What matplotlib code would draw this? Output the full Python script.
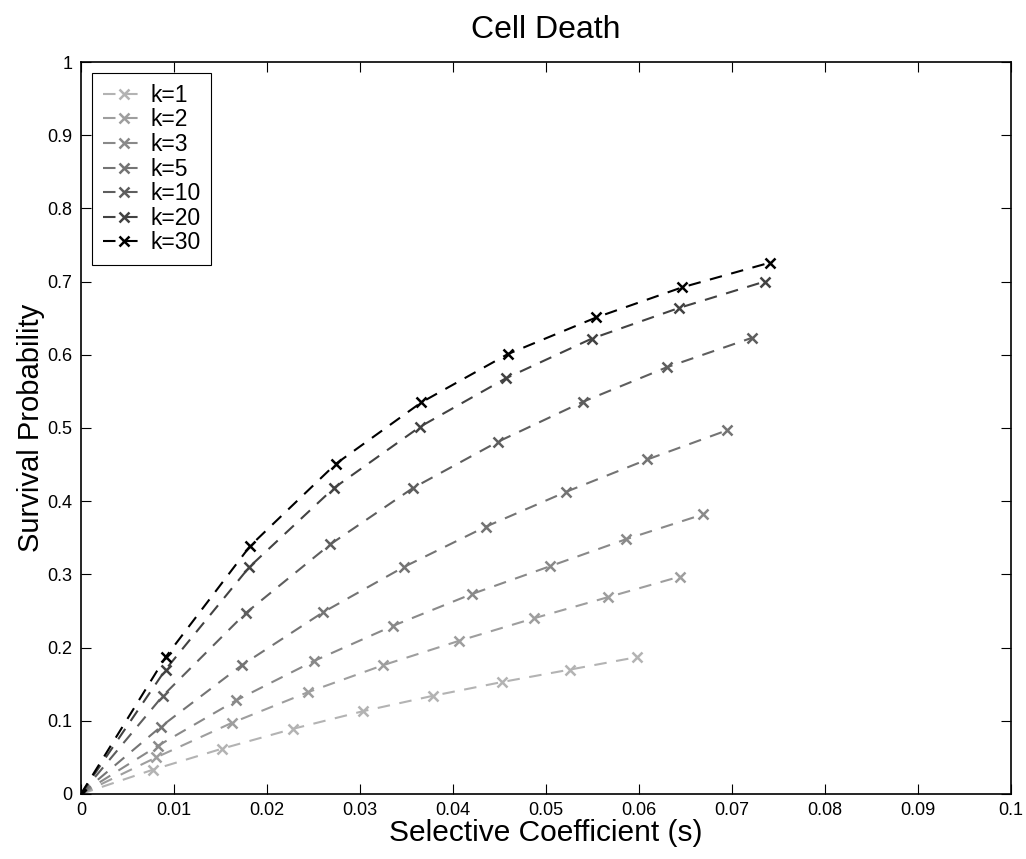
#!/usr/bin/env python3
# -*- coding: utf-8 -*-

"""
Cell Death: survival probability vs selective coefficient for several k.
"""

import matplotlib
matplotlib.use('Agg')
import matplotlib.pyplot as plt
from matplotlib.ticker import FuncFormatter

plt.rcParams['font.family'] = ['Liberation Sans', 'DejaVu Sans']

# Data
k_labels = ['k=1', 'k=2', 'k=3', 'k=5', 'k=10', 'k=20', 'k=30']

s_k1 = [0, 0.0077, 0.0152, 0.0228, 0.0303, 0.0378, 0.0453, 0.0526, 0.0598]
p_k1 = [0, 0.033, 0.062, 0.089, 0.113, 0.134, 0.153, 0.170, 0.187]

s_k2 = [0, 0.0081, 0.0162, 0.0244, 0.0325, 0.0406, 0.0487, 0.0567, 0.0644]
p_k2 = [0, 0.050, 0.097, 0.139, 0.176, 0.209, 0.240, 0.269, 0.297]

s_k3 = [0, 0.0083, 0.0167, 0.0251, 0.0336, 0.0420, 0.0504, 0.0586, 0.0669]
p_k3 = [0, 0.066, 0.128, 0.182, 0.230, 0.273, 0.311, 0.348, 0.382]

s_k5 = [0, 0.0086, 0.0173, 0.0260, 0.0347, 0.0435, 0.0522, 0.0609, 0.0695]
p_k5 = [0, 0.092, 0.176, 0.248, 0.310, 0.365, 0.413, 0.457, 0.497]

s_k10 = [0, 0.0088, 0.0177, 0.0268, 0.0357, 0.0448, 0.0540, 0.0630, 0.0721]
p_k10 = [0, 0.134, 0.247, 0.341, 0.418, 0.481, 0.536, 0.583, 0.623]

s_k20 = [0, 0.0091, 0.0181, 0.0272, 0.0365, 0.0457, 0.0549, 0.0643, 0.0735]
p_k20 = [0, 0.170, 0.310, 0.418, 0.502, 0.568, 0.622, 0.664, 0.700]

s_k30 = [0, 0.0091, 0.0182, 0.0274, 0.0366, 0.0459, 0.0554, 0.0646, 0.0741]
p_k30 = [0, 0.187, 0.339, 0.451, 0.535, 0.601, 0.651, 0.692, 0.726]

x_series = [s_k1, s_k2, s_k3, s_k5, s_k10, s_k20, s_k30]
y_series = [p_k1, p_k2, p_k3, p_k5, p_k10, p_k20, p_k30]

# Gray levels, light to black
grays = ['#b3b3b3', '#9e9e9e', '#898989', '#747474', '#5e5e5e', '#424242', '#000000']

fig = plt.figure(figsize=(10.26, 8.59), dpi=100)
ax = fig.add_axes([0.0789, 0.0757, 0.9065, 0.8521])

for xs, ys, lab, col in zip(x_series, y_series, k_labels, grays):
    ax.plot(xs, ys, color=col, linestyle=(0, (6.0, 4.6)), linewidth=1.5,
            marker='x', markersize=7, markeredgewidth=1.8, label=lab)

ax.set_xlim(0, 0.1)
ax.set_ylim(0, 1)
ax.set_xticks([i / 100 for i in range(11)])
ax.set_yticks([i / 10 for i in range(11)])
fmt = FuncFormatter(lambda v, p: '%g' % round(v, 4))
ax.xaxis.set_major_formatter(fmt)
ax.yaxis.set_major_formatter(fmt)

ax.tick_params(direction='in', length=7, width=0.8, labelsize=13,
               top=True, right=True, pad=6)
for sp in ax.spines.values():
    sp.set_linewidth(1.2)

ax.set_title('Cell Death', fontsize=23, pad=17)
ax.set_xlabel('Selective Coefficient (s)', fontsize=21.5, labelpad=0)
ax.set_ylabel('Survival Probability', fontsize=21, labelpad=2)

leg = ax.legend(loc='upper left', fontsize=16.5, handlelength=1.9,
                handletextpad=0.18, labelspacing=0.07, borderaxespad=0.5,
                fancybox=False, framealpha=1, borderpad=0.45)
leg.get_frame().set_edgecolor('black')
leg.get_frame().set_linewidth(0.8)

fig.savefig('out.png', dpi=100)
